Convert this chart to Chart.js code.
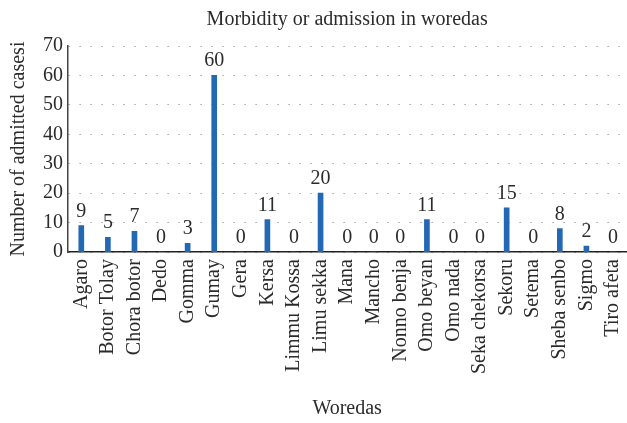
<!DOCTYPE html>
<html>
<head>
<meta charset="utf-8">
<script src="https://cdn.jsdelivr.net/npm/chart.js@4"></script>
<style>
  html, body { margin: 0; padding: 0; background: #fff; overflow: hidden; }
  canvas { display: block; }
</style>
</head>
<body>
<canvas id="grafico" width="644" height="423"></canvas>
<script>
// woredas e casos admitidos
const woredas = ['Agaro', 'Botor Tolay', 'Chora botor', 'Dedo', 'Gomma', 'Gumay', 'Gera', 'Kersa',
  'Limmu Kossa', 'Limu sekka', 'Mana', 'Mancho', 'Nonno benja', 'Omo beyan', 'Omo nada',
  'Seka chekorsa', 'Sekoru', 'Setema', 'Sheba senbo', 'Sigmo', 'Tiro afeta'];
const casos = [9, 5, 7, 0, 3, 60, 0, 11, 0, 20, 0, 0, 0, 11, 0, 0, 15, 0, 8, 2, 0];
const ticksY = [0, 10, 20, 30, 40, 50, 60, 70];

const titulo = 'Morbidity or admission in woredas';
const fonte = '"Liberation Serif", "DejaVu Serif", serif';
const corTexto = '#2b2b2b';

// título centrado sobre a área do gráfico, valores em cima das barras
const pluginTextos = {
  id: 'textos',
  afterDraw(chart) {
    const ctx = chart.ctx;
    const area = chart.chartArea;
    ctx.save();
    ctx.fillStyle = corTexto;
    ctx.font = '20px ' + fonte;
    ctx.textAlign = 'center';
    ctx.textBaseline = 'middle';
    ctx.fillText(titulo, (area.left + area.right) / 2, 20);

    ctx.textBaseline = 'alphabetic';
    const meta = chart.getDatasetMeta(0);
    meta.data.forEach((bar, i) => {
      ctx.fillText(String(casos[i]), bar.x, bar.y - 9);
    });
    ctx.restore();
  }
};

new Chart(document.getElementById('grafico').getContext('2d'), {
  type: 'bar',
  data: {
    labels: woredas,
    datasets: [{
      data: casos,
      backgroundColor: '#2268b4',
      barThickness: 5
    }]
  },
  options: {
    responsive: false,
    animation: false,
    layout: { padding: { top: 46, right: 0, left: 7, bottom: 2 } },
    plugins: {
      legend: { display: false },
      tooltip: { enabled: false },
      title: { display: false }
    },
    scales: {
      x: {
        offset: true,
        grid: { display: false, drawTicks: false },
        border: { display: true, color: '#222', width: 1.5 },
        ticks: {
          autoSkip: false,
          maxRotation: 90,
          minRotation: 90,
          padding: 7,
          color: corTexto,
          font: { family: fonte, size: 20 }
        },
        title: {
          display: true,
          text: 'Woredas',
          color: corTexto,
          font: { family: fonte, size: 20 },
          padding: { top: 16, bottom: 0 }
        }
      },
      y: {
        min: 0,
        max: 70,
        afterBuildTicks(scale) {
          scale.ticks = ticksY.map(v => ({ value: v }));
        },
        grid: {
          color: '#8f8f8f',
          lineWidth: 1,
          drawTicks: false
        },
        border: { display: true, color: '#444', width: 1.5, dash: [1.2, 9.8] },
        ticks: {
          padding: 5,
          color: corTexto,
          font: { family: fonte, size: 20 }
        },
        title: {
          display: true,
          text: 'Number of admitted casesi',
          color: corTexto,
          font: { family: fonte, size: 20 },
          padding: { top: 0, bottom: 7 }
        }
      }
    }
  },
  plugins: [pluginTextos]
});
</script>
</body>
</html>
